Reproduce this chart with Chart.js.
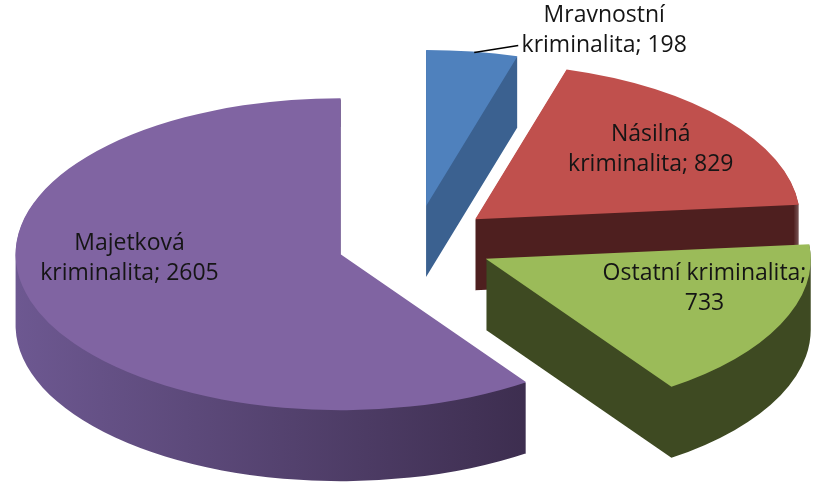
<!DOCTYPE html>
<html>
<head>
<meta charset="utf-8">
<script src="https://cdn.jsdelivr.net/npm/chart.js@4.4.1/dist/chart.umd.min.js"></script>
<style>
  html, body { margin: 0; padding: 0; background: #fff; }
  #wrap { width: 822px; height: 490px; }
</style>
</head>
<body>
<div id="wrap"><canvas id="crimeChart"></canvas></div>
<script>
// Struktura kriminality - data
const categories = ['Mravnostní kriminalita', 'Násilná kriminalita', 'Ostatní kriminalita', 'Majetková kriminalita'];
const counts = [198, 829, 733, 2605];

// barvy (horni plocha / bocni stena)
const topColors = ['#4f81bd', '#c0504d', '#9bbb59', '#8064a2'];
const sideColors = ['#3b6190', '#4e1f1f', '#3e4a22', null];

// 3D pohled - elipsa na obrazovce
const VIEW = { cx: 415, cy: 243, rx: 325, ry: 156, depth: 71 };
const RADIUS = 200;
const EXPLODE = 48;

// popisky
const labelFrac = [1.0, 0.7, 0.7, 0.65];
const labelTurn = [0, 0, -9, 15];
const labelBreak = [1, 1, 2, 1];

function applyView(ctx, arc, dy) {
    ctx.translate(VIEW.cx, VIEW.cy + dy);
    ctx.scale(VIEW.rx / RADIUS, VIEW.ry / RADIUS);
    ctx.translate(-arc.x, -arc.y);
}

function toScreen(arc, px, py) {
    return {
        x: VIEW.cx + (px - arc.x) * VIEW.rx / RADIUS,
        y: VIEW.cy + (py - arc.y) * VIEW.ry / RADIUS
    };
}

// stred vysunute vysece
function sliceCenter(arc) {
    const mid = (arc.startAngle + arc.endAngle) / 2;
    return { x: arc.x + Math.cos(mid) * EXPLODE, y: arc.y + Math.sin(mid) * EXPLODE, mid: mid };
}

const pie3d = {
    id: 'pie3d',
    beforeDatasetDraw() {
        // vysece kreslime sami nize
        return false;
    },
    afterDatasetsDraw(chart) {
        const ctx = chart.ctx;
        const arcs = chart.getDatasetMeta(0).data;

        // bocni steny odzadu dopredu
        [0, 1, 3, 2].forEach(i => {
            const arc = arcs[i];
            const c = sliceCenter(arc);
            ctx.beginPath();
            for (let k = 1; k <= VIEW.depth; k++) {
                ctx.save();
                applyView(ctx, arc, k);
                ctx.moveTo(c.x, c.y);
                ctx.arc(c.x, c.y, arc.outerRadius, arc.startAngle, arc.endAngle);
                ctx.closePath();
                ctx.restore();
            }
            let fill = sideColors[i];
            if (!fill) {
                fill = ctx.createLinearGradient(15, 0, 560, 0);
                fill.addColorStop(0, '#6d5891');
                fill.addColorStop(1, '#3a2b4b');
            }
            ctx.fillStyle = fill;
            ctx.fill();
        });

        // horni plochy
        arcs.forEach(arc => {
            const c = sliceCenter(arc);
            ctx.save();
            applyView(ctx, arc, 0);
            ctx.translate(c.x - arc.x, c.y - arc.y);
            arc.draw(ctx);
            ctx.restore();
        });

        // popisky
        ctx.save();
        ctx.font = '23px "Open Sans"';
        ctx.fillStyle = '#151515';
        ctx.textAlign = 'center';
        ctx.textBaseline = 'middle';
        arcs.forEach((arc, i) => {
            const words = (categories[i] + '; ' + counts[i]).split(' ');
            const lines = [words.slice(0, labelBreak[i]).join(' '), words.slice(labelBreak[i]).join(' ')];
            const c = sliceCenter(arc);
            const a = c.mid + labelTurn[i] * Math.PI / 180;
            const r = labelFrac[i] * arc.outerRadius;
            const p = toScreen(arc, c.x + Math.cos(a) * r, c.y + Math.sin(a) * r);
            if (i === 0) {
                // popisek mimo vysec s vodici carou
                ctx.strokeStyle = '#000';
                ctx.lineWidth = 1.5;
                ctx.beginPath();
                ctx.moveTo(p.x + 2, p.y + 1);
                ctx.lineTo(p.x + 46, p.y - 6);
                ctx.stroke();
                ctx.fillText(lines[0], p.x + 132, p.y - 36);
                ctx.fillText(lines[1], p.x + 132, p.y - 6);
            } else {
                ctx.fillText(lines[0], p.x, p.y - 15);
                ctx.fillText(lines[1], p.x, p.y + 15);
            }
        });
        ctx.restore();
    }
};

new Chart(document.getElementById('crimeChart'), {
    type: 'pie',
    data: {
        labels: categories,
        datasets: [{
            data: counts,
            backgroundColor: topColors,
            borderWidth: 0,
            radius: RADIUS,
            offset: 0,
            hoverOffset: 0
        }]
    },
    options: {
        responsive: true,
        maintainAspectRatio: false,
        animation: false,
        layout: { padding: 0 },
        plugins: {
            legend: { display: false },
            tooltip: { enabled: false }
        }
    },
    plugins: [pie3d]
});
</script>
</body>
</html>
